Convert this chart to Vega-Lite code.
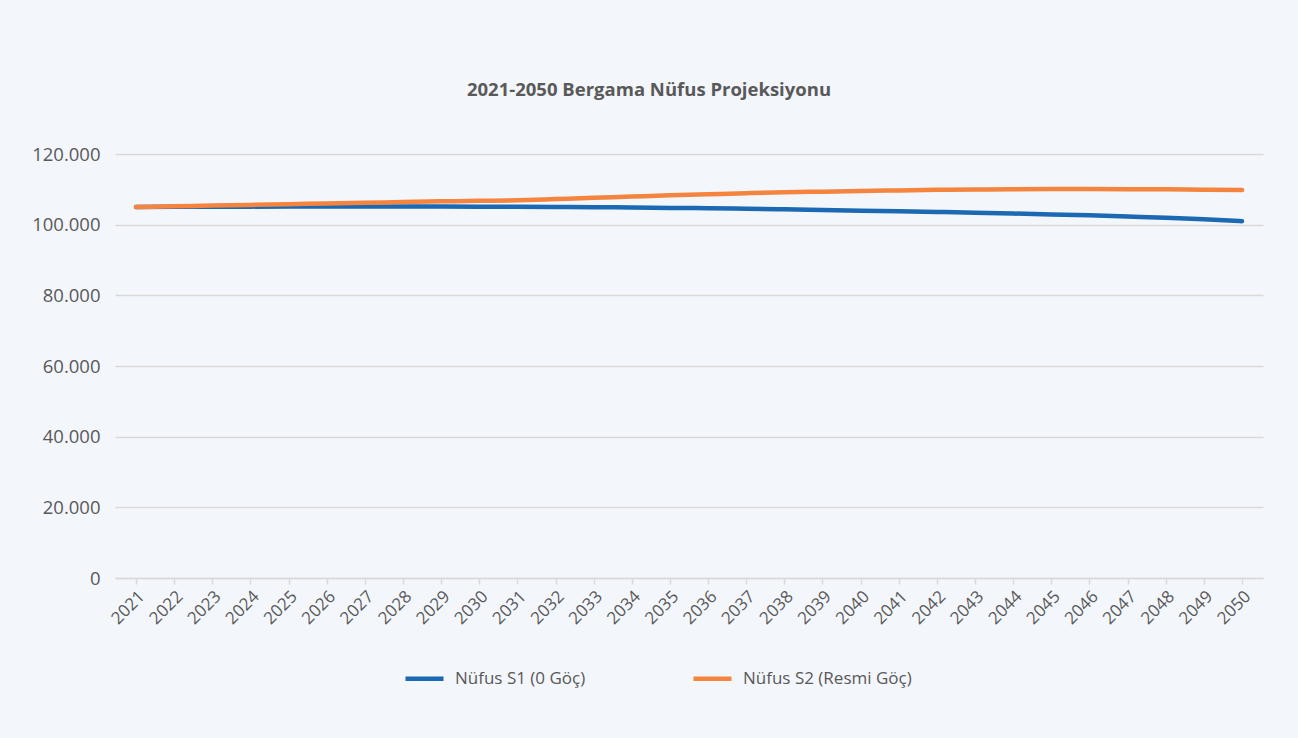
{
  "$schema": "https://vega.github.io/schema/vega-lite/v6.json",
  "width": 1148,
  "height": 424,
  "autosize": {"type": "none"},
  "padding": {"left": 115, "top": 154, "right": 35, "bottom": 160},
  "background": "#f3f6fb",
  "config": {
    "view": {"stroke": null},
    "locale": {"number": {"decimal": ",", "thousands": ".", "grouping": [3], "currency": ["", ""]}}
  },
  "title": {
    "text": "2021-2050 Bergama Nüfus Projeksiyonu",
    "font": "Open Sans",
    "fontSize": 18.5,
    "fontWeight": "bold",
    "color": "#595959",
    "anchor": "middle",
    "offset": 46,
    "dx": -40
  },
  "data": {
    "values": [
      {"year": "2021", "series": "Nüfus S1 (0 Göç)", "value": 105000},
      {"year": "2022", "series": "Nüfus S1 (0 Göç)", "value": 105050},
      {"year": "2023", "series": "Nüfus S1 (0 Göç)", "value": 105100},
      {"year": "2024", "series": "Nüfus S1 (0 Göç)", "value": 105100},
      {"year": "2025", "series": "Nüfus S1 (0 Göç)", "value": 105150},
      {"year": "2026", "series": "Nüfus S1 (0 Göç)", "value": 105150},
      {"year": "2027", "series": "Nüfus S1 (0 Göç)", "value": 105150},
      {"year": "2028", "series": "Nüfus S1 (0 Göç)", "value": 105150},
      {"year": "2029", "series": "Nüfus S1 (0 Göç)", "value": 105150},
      {"year": "2030", "series": "Nüfus S1 (0 Göç)", "value": 105100},
      {"year": "2031", "series": "Nüfus S1 (0 Göç)", "value": 105050},
      {"year": "2032", "series": "Nüfus S1 (0 Göç)", "value": 105000},
      {"year": "2033", "series": "Nüfus S1 (0 Göç)", "value": 104950},
      {"year": "2034", "series": "Nüfus S1 (0 Göç)", "value": 104850},
      {"year": "2035", "series": "Nüfus S1 (0 Göç)", "value": 104750},
      {"year": "2036", "series": "Nüfus S1 (0 Göç)", "value": 104650},
      {"year": "2037", "series": "Nüfus S1 (0 Göç)", "value": 104500},
      {"year": "2038", "series": "Nüfus S1 (0 Göç)", "value": 104350},
      {"year": "2039", "series": "Nüfus S1 (0 Göç)", "value": 104150},
      {"year": "2040", "series": "Nüfus S1 (0 Göç)", "value": 103950},
      {"year": "2041", "series": "Nüfus S1 (0 Göç)", "value": 103800},
      {"year": "2042", "series": "Nüfus S1 (0 Göç)", "value": 103600},
      {"year": "2043", "series": "Nüfus S1 (0 Göç)", "value": 103400},
      {"year": "2044", "series": "Nüfus S1 (0 Göç)", "value": 103150},
      {"year": "2045", "series": "Nüfus S1 (0 Göç)", "value": 102900},
      {"year": "2046", "series": "Nüfus S1 (0 Göç)", "value": 102650},
      {"year": "2047", "series": "Nüfus S1 (0 Göç)", "value": 102300},
      {"year": "2048", "series": "Nüfus S1 (0 Göç)", "value": 101950},
      {"year": "2049", "series": "Nüfus S1 (0 Göç)", "value": 101500},
      {"year": "2050", "series": "Nüfus S1 (0 Göç)", "value": 101000},
      {"year": "2021", "series": "Nüfus S2 (Resmi Göç)", "value": 105000},
      {"year": "2022", "series": "Nüfus S2 (Resmi Göç)", "value": 105200},
      {"year": "2023", "series": "Nüfus S2 (Resmi Göç)", "value": 105400},
      {"year": "2024", "series": "Nüfus S2 (Resmi Göç)", "value": 105600},
      {"year": "2025", "series": "Nüfus S2 (Resmi Göç)", "value": 105800},
      {"year": "2026", "series": "Nüfus S2 (Resmi Göç)", "value": 106000},
      {"year": "2027", "series": "Nüfus S2 (Resmi Göç)", "value": 106200},
      {"year": "2028", "series": "Nüfus S2 (Resmi Göç)", "value": 106400},
      {"year": "2029", "series": "Nüfus S2 (Resmi Göç)", "value": 106600},
      {"year": "2030", "series": "Nüfus S2 (Resmi Göç)", "value": 106750},
      {"year": "2031", "series": "Nüfus S2 (Resmi Göç)", "value": 106900},
      {"year": "2032", "series": "Nüfus S2 (Resmi Göç)", "value": 107250},
      {"year": "2033", "series": "Nüfus S2 (Resmi Göç)", "value": 107600},
      {"year": "2034", "series": "Nüfus S2 (Resmi Göç)", "value": 107950},
      {"year": "2035", "series": "Nüfus S2 (Resmi Göç)", "value": 108300},
      {"year": "2036", "series": "Nüfus S2 (Resmi Göç)", "value": 108600},
      {"year": "2037", "series": "Nüfus S2 (Resmi Göç)", "value": 108900},
      {"year": "2038", "series": "Nüfus S2 (Resmi Göç)", "value": 109150},
      {"year": "2039", "series": "Nüfus S2 (Resmi Göç)", "value": 109350},
      {"year": "2040", "series": "Nüfus S2 (Resmi Göç)", "value": 109550},
      {"year": "2041", "series": "Nüfus S2 (Resmi Göç)", "value": 109700},
      {"year": "2042", "series": "Nüfus S2 (Resmi Göç)", "value": 109850},
      {"year": "2043", "series": "Nüfus S2 (Resmi Göç)", "value": 109950},
      {"year": "2044", "series": "Nüfus S2 (Resmi Göç)", "value": 110050},
      {"year": "2045", "series": "Nüfus S2 (Resmi Göç)", "value": 110100},
      {"year": "2046", "series": "Nüfus S2 (Resmi Göç)", "value": 110100},
      {"year": "2047", "series": "Nüfus S2 (Resmi Göç)", "value": 110050},
      {"year": "2048", "series": "Nüfus S2 (Resmi Göç)", "value": 110000},
      {"year": "2049", "series": "Nüfus S2 (Resmi Göç)", "value": 109900},
      {"year": "2050", "series": "Nüfus S2 (Resmi Göç)", "value": 109800}
    ]
  },
  "mark": {"type": "line", "strokeWidth": 4.5, "strokeCap": "round", "strokeJoin": "round", "interpolate": "monotone"},
  "encoding": {
    "x": {
      "field": "year",
      "type": "ordinal",
      "scale": {"type": "point", "padding": 0.55},
      "axis": {
        "title": null,
        "labelAngle": -45,
        "labelFont": "Open Sans",
        "labelFontSize": 17,
        "labelColor": "#595959",
        "labelPadding": 4,
        "labelOverlap": false,
        "tickColor": "#d9d9d9",
        "tickSize": 6,
        "tickWidth": 1.5,
        "domainColor": "#d9d9d9",
        "domainWidth": 1.5,
        "grid": false
      }
    },
    "y": {
      "field": "value",
      "type": "quantitative",
      "scale": {"domain": [0, 120000], "nice": false},
      "axis": {
        "title": null,
        "values": [0, 20000, 40000, 60000, 80000, 100000, 120000],
        "format": ",d",
        "labelFont": "Open Sans",
        "labelFontSize": 18.5,
        "labelColor": "#595959",
        "labelPadding": 15,
        "ticks": false,
        "domain": false,
        "grid": true,
        "gridColor": "#d9d9d9",
        "gridWidth": 1.5
      }
    },
    "color": {
      "field": "series",
      "type": "nominal",
      "scale": {"domain": ["Nüfus S1 (0 Göç)", "Nüfus S2 (Resmi Göç)"], "range": ["#1b68b3", "#f4843e"]},
      "legend": {
        "title": null,
        "orient": "none",
        "legendX": 288,
        "legendY": 503,
        "direction": "horizontal",
        "symbolType": "stroke",
        "symbolSize": 1444,
        "symbolStrokeWidth": 4.5,
        "labelFont": "Open Sans",
        "labelFontSize": 17,
        "labelColor": "#595959",
        "labelLimit": 400,
        "labelOffset": 9,
        "columnPadding": 98
      }
    }
  }
}
